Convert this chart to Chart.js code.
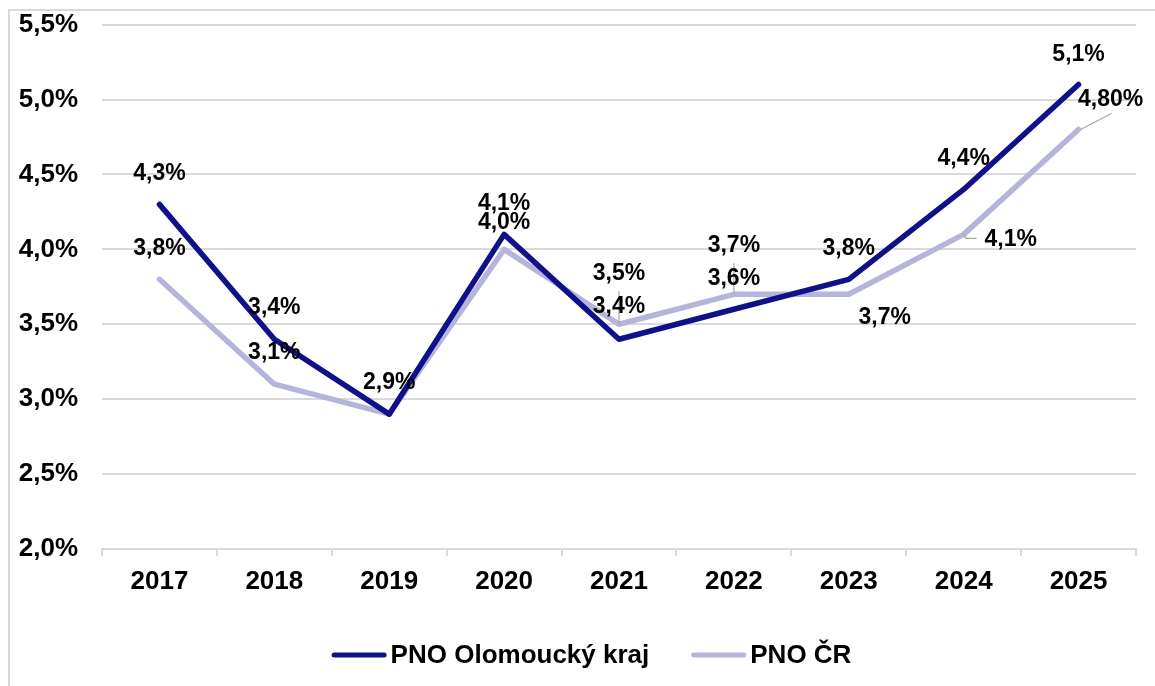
<!DOCTYPE html>
<html>
<head>
<meta charset="utf-8">
<script src="https://cdn.jsdelivr.net/npm/chart.js@4/dist/chart.umd.min.js"></script>
<style>
  html, body { margin: 0; padding: 0; background: #ffffff; }
  #wrap { position: relative; width: 1155px; height: 686px; overflow: hidden; }
  #frame { position: absolute; left: 8px; top: 9px; width: 1200px; height: 700px;
           border-left: 2px solid #d9d9d9; border-top: 2px solid #d9d9d9; box-sizing: border-box; }
  canvas { position: absolute; left: 0; top: 0; }
</style>
</head>
<body>
<div id="wrap">
  <div id="frame"></div>
  <canvas id="c" width="1155" height="686"></canvas>
</div>
<script>
// ---- data ----
const categories = ['2017', '2018', '2019', '2020', '2021', '2022', '2023', '2024', '2025'];
const seriesNames = ['PNO Olomoucký kraj', 'PNO ČR'];
const olomoucValues = [4.3, 3.4, 2.9, 4.1, 3.4, 3.6, 3.8, 4.4, 5.1];
const crValues = [3.8, 3.1, 2.9, 4.0, 3.5, 3.7, 3.7, 4.1, 4.8];
const olomoucLabels = ['4,3%', '3,4%', '2,9%', '4,1%', '3,4%', '3,6%', '3,8%', '4,4%', '5,1%'];
const crLabels = ['3,8%', '3,1%', null, '4,0%', '3,5%', '3,7%', '3,7%', '4,1%', '4,80%'];
const yTickValues = [2.0, 2.5, 3.0, 3.5, 4.0, 4.5, 5.0, 5.5];

// ---- label placement (style, not data): [dx, dy, leader line?] ----
const olomoucLabelPos = [[0,-31],[0,-32],[0,-31],[0,-31],[0,-33],[0,-31],[0,-31],[0,-31],[0,-30]];
const crLabelPos = [[0,-31],[0,-32],null,[0,-27],[0,-51,'v'],[0,-49,'v'],[36,23],[47,5,'h'],[32,-30,'d']];

const DARK = '#10108a';
const LIGHT = '#b5b5db';
const FONT = '"Liberation Sans", Arial, sans-serif';

const dataLabelPlugin = {
  id: 'dataLabels',
  afterDatasetsDraw(chart) {
    const ctx = chart.ctx;
    const sets = [[olomoucLabels, olomoucLabelPos], [crLabels, crLabelPos]];
    ctx.save();
    sets.forEach((s, di) => {
      const meta = chart.getDatasetMeta(di);
      s[0].forEach((txt, i) => {
        const pos = s[1][i];
        if (!txt || !pos || !pos[2]) return;
        const p = meta.data[i];
        ctx.strokeStyle = '#a6a6a6';
        ctx.lineWidth = 1.2;
        ctx.beginPath();
        if (pos[2] === 'v') {
          ctx.moveTo(p.x, p.y + pos[1] + 18);
          ctx.lineTo(p.x, p.y);
        } else if (pos[2] === 'h') {
          ctx.moveTo(p.x, p.y);
          ctx.lineTo(p.x + 2, p.y + 4);
          ctx.lineTo(p.x + 13, p.y + 4);
        } else if (pos[2] === 'd') {
          ctx.moveTo(p.x + 2, p.y);
          ctx.lineTo(p.x + 33, p.y - 16);
        }
        ctx.stroke();
      });
    });
    ctx.fillStyle = '#000000';
    ctx.font = 'bold 23px ' + FONT;
    ctx.textAlign = 'center';
    ctx.textBaseline = 'middle';
    sets.forEach((s, di) => {
      const meta = chart.getDatasetMeta(di);
      s[0].forEach((txt, i) => {
        const pos = s[1][i];
        if (!txt || !pos) return;
        const p = meta.data[i];
        ctx.fillText(txt, p.x + pos[0], p.y + pos[1]);
      });
    });
    ctx.restore();
  }
};

// legend drawn on the canvas, from the dataset labels and colours
const legendPlugin = {
  id: 'lineLegend',
  afterDraw(chart) {
    const ctx = chart.ctx;
    const sampleW = 55, textGap = 4, itemGap = 42;
    const y = chart.chartArea.bottom + 106;
    ctx.save();
    ctx.font = 'bold 26px ' + FONT;
    ctx.textBaseline = 'middle';
    ctx.textAlign = 'left';
    const items = chart.data.datasets.map(ds => ({ text: ds.label, color: ds.borderColor, w: ctx.measureText(ds.label).width }));
    const total = items.reduce((a, it) => a + sampleW + textGap + it.w, 0) + itemGap * (items.length - 1);
    let x = chart.width / 2 + 14 - total / 2;
    items.forEach(it => {
      ctx.strokeStyle = it.color;
      ctx.lineWidth = 5;
      ctx.lineCap = 'round';
      ctx.beginPath();
      ctx.moveTo(x + 2.5, y);
      ctx.lineTo(x + sampleW - 2.5, y);
      ctx.stroke();
      ctx.fillStyle = '#000000';
      ctx.fillText(it.text, x + sampleW + textGap, y + 1);
      x += sampleW + textGap + it.w + itemGap;
    });
    ctx.restore();
  }
};

new Chart(document.getElementById('c'), {
  type: 'line',
  data: {
    labels: categories,
    datasets: [
      { label: seriesNames[0], data: olomoucValues, borderColor: DARK, backgroundColor: DARK,
        borderWidth: 5.5, pointRadius: 0, tension: 0, borderCapStyle: 'round', borderJoinStyle: 'round' },
      { label: seriesNames[1], data: crValues, borderColor: LIGHT, backgroundColor: LIGHT,
        borderWidth: 5.5, pointRadius: 0, tension: 0, borderCapStyle: 'round', borderJoinStyle: 'round' }
    ]
  },
  options: {
    responsive: false,
    animation: false,
    events: [],
    layout: { padding: { left: 0, right: 19, top: 12, bottom: 0 } },
    plugins: {
      tooltip: { enabled: false },
      legend: { display: false }
    },
    scales: {
      x: {
        offset: true,
        grid: { display: true, offset: true, drawOnChartArea: false, drawTicks: true, tickLength: 7,
                color: '#d9d9d9', lineWidth: 2 },
        border: { display: true, color: '#d9d9d9', width: 2 },
        ticks: { color: '#000000', padding: 10, font: { family: FONT, size: 26, weight: 'bold' }, maxRotation: 0 },
        afterFit(scale) { scale.height = 137; }
      },
      y: {
        min: 2.0, max: 5.5,
        afterBuildTicks(scale) { scale.ticks = yTickValues.map(v => ({ value: v })); },
        grid: { color: '#d9d9d9', lineWidth: 2, drawTicks: true, tickLength: 15, tickColor: 'rgba(0,0,0,0)' },
        border: { display: false },
        ticks: {
          color: '#000000', padding: 9,
          font: { family: FONT, size: 26, weight: 'bold' },
          callback: v => v.toFixed(1).replace('.', ',') + '%'
        },
        afterFit(scale) { scale.width = 102; }
      }
    }
  },
  plugins: [dataLabelPlugin, legendPlugin]
});
</script>
</body>
</html>
